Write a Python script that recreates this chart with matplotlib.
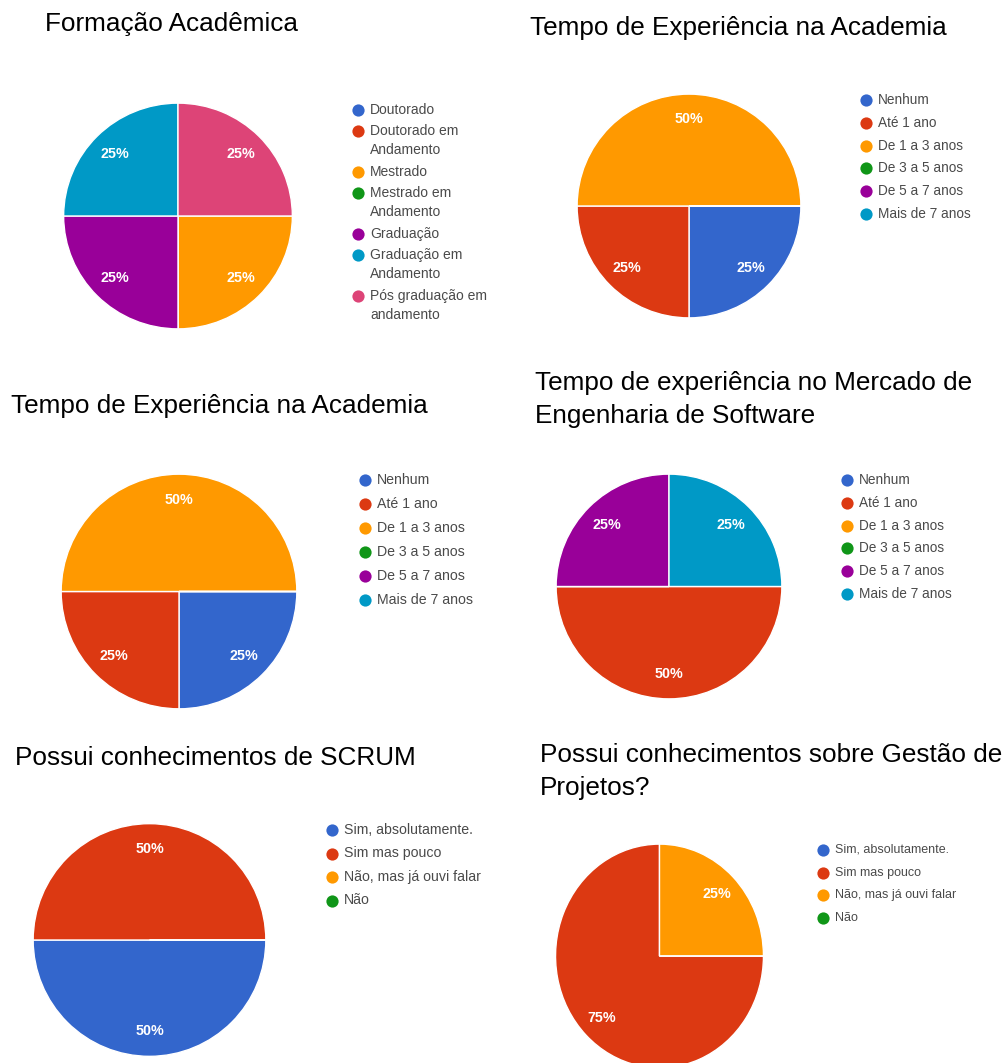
"""Six Google-Forms style pie charts from a survey, rebuilt in matplotlib."""

import matplotlib as mpl
from matplotlib import pyplot as plt

mpl.use("Agg")
plt.rcParams["font.family"] = ["Liberation Sans", "DejaVu Sans"]

W, H = 1003, 1063

BLUE, RED, ORANGE, GREEN = "#3366CC", "#DC3912", "#FF9900", "#109618"
PURPLE, TEAL, PINK = "#990099", "#0099C6", "#DD4477"

# --- data ---------------------------------------------------------------
formacao_labels = [
    "Doutorado",
    "Doutorado em\nAndamento",
    "Mestrado",
    "Mestrado em\nAndamento",
    "Graduação",
    "Graduação em\nAndamento",
    "Pós graduação em\nandamento",
]
formacao_values = [0, 0, 25, 0, 25, 25, 25]
formacao_colors = [BLUE, RED, ORANGE, GREEN, PURPLE, TEAL, PINK]

tempo_labels = [
    "Nenhum",
    "Até 1 ano",
    "De 1 a 3 anos",
    "De 3 a 5 anos",
    "De 5 a 7 anos",
    "Mais de 7 anos",
]
tempo_colors = [BLUE, RED, ORANGE, GREEN, PURPLE, TEAL]
academia_values = [25, 25, 50, 0, 0, 0]
mercado_values = [0, 50, 0, 0, 25, 25]

conhecimento_labels = [
    "Sim, absolutamente.",
    "Sim mas pouco",
    "Não, mas já ouvi falar",
    "Não",
]
conhecimento_colors = [BLUE, RED, ORANGE, GREEN]
scrum_values = [50, 50, 0, 0]
gestao_values = [0, 75, 25, 0]

titles = [
    "Formação Acadêmica",
    "Tempo de Experiência na Academia",
    "Tempo de Experiência na Academia",
    "Tempo de experiência no Mercado de\nEngenharia de Software",
    "Possui conhecimentos de SCRUM",
    "Possui conhecimentos sobre Gestão de\nProjetos?",
]

# --- layout (pixels) ----------------------------------------------------
# pie: centre x, centre y, radius x, radius y
PIE_BOX = [
    (178, 216, 115.5, 114),
    (689, 206, 113, 113),
    (179, 591.5, 119, 118.5),
    (669, 586.5, 114, 113.5),
    (149.5, 940, 117.5, 117.5),
    (659.5, 956, 105, 113),
]
# title: left x, first baseline y
TITLE_POS = [(45, 31), (530, 35), (11, 413), (535, 390), (15, 765), (540, 762)]
# legend: marker x, first row y, row step, font size
LEGEND_POS = [
    (358, 110, 21, 10.0),
    (866, 100, 22.8, 9.8),
    (365, 480, 24, 10.2),
    (847, 480, 22.8, 9.8),
    (332, 830, 23.5, 10.2),
    (823, 850, 22.6, 9.0),
]


def _draw_pie(fig, box, values, colors):
    cx, cy, rx, ry = box
    ax = fig.add_axes([(cx - rx) / W, (H - cy - ry) / H, 2 * rx / W, 2 * ry / H])
    ax.pie(
        values,
        colors=colors,
        startangle=0,
        counterclock=False,
        autopct=lambda p: f"{p:.0f}%" if p > 0 else "",
        pctdistance=0.78,
        wedgeprops={"edgecolor": "white", "linewidth": 1.0},
        textprops={"color": "white", "fontsize": 10.3, "fontweight": "bold"},
    )
    ax.set_aspect("auto")
    ax.set_xlim(-1.01, 1.01)
    ax.set_ylim(-1.01, 1.01)


def _draw_legend(ax, pos, labels, colors):
    x, y, step, size = pos
    for label, color in zip(labels, colors):
        ax.plot(x, y, "o", color=color, markersize=8.8, markeredgewidth=0)
        lines = label.split("\n")
        for i, line in enumerate(lines):
            ax.text(x + 12, y + i * 19, line, fontsize=size, color="#4a4a4a",
                    va="center", ha="left")
        y += step + 20 * (len(lines) - 1)


def _draw_title(ax, pos, title):
    x, y = pos
    for i, line in enumerate(title.split("\n")):
        ax.text(x, y + i * 32.5, line, fontsize=18.8, color="black",
                va="baseline", ha="left")


fig = plt.figure(figsize=(W / 100, H / 100), dpi=100)
fig.patch.set_facecolor("white")

charts = [
    (formacao_values, formacao_labels, formacao_colors),
    (academia_values, tempo_labels, tempo_colors),
    (academia_values, tempo_labels, tempo_colors),
    (mercado_values, tempo_labels, tempo_colors),
    (scrum_values, conhecimento_labels, conhecimento_colors),
    (gestao_values, conhecimento_labels, conhecimento_colors),
]

for (values, _, colors), box in zip(charts, PIE_BOX):
    _draw_pie(fig, box, values, colors)

overlay = fig.add_axes([0, 0, 1, 1], zorder=5)
overlay.set_xlim(0, W)
overlay.set_ylim(H, 0)
overlay.axis("off")
overlay.patch.set_alpha(0)

for (_, labels, colors), pos, title, tpos in zip(charts, LEGEND_POS, titles, TITLE_POS):
    _draw_legend(overlay, pos, labels, colors)
    _draw_title(overlay, tpos, title)

fig.savefig("out.png", dpi=100)
plt.close(fig)
